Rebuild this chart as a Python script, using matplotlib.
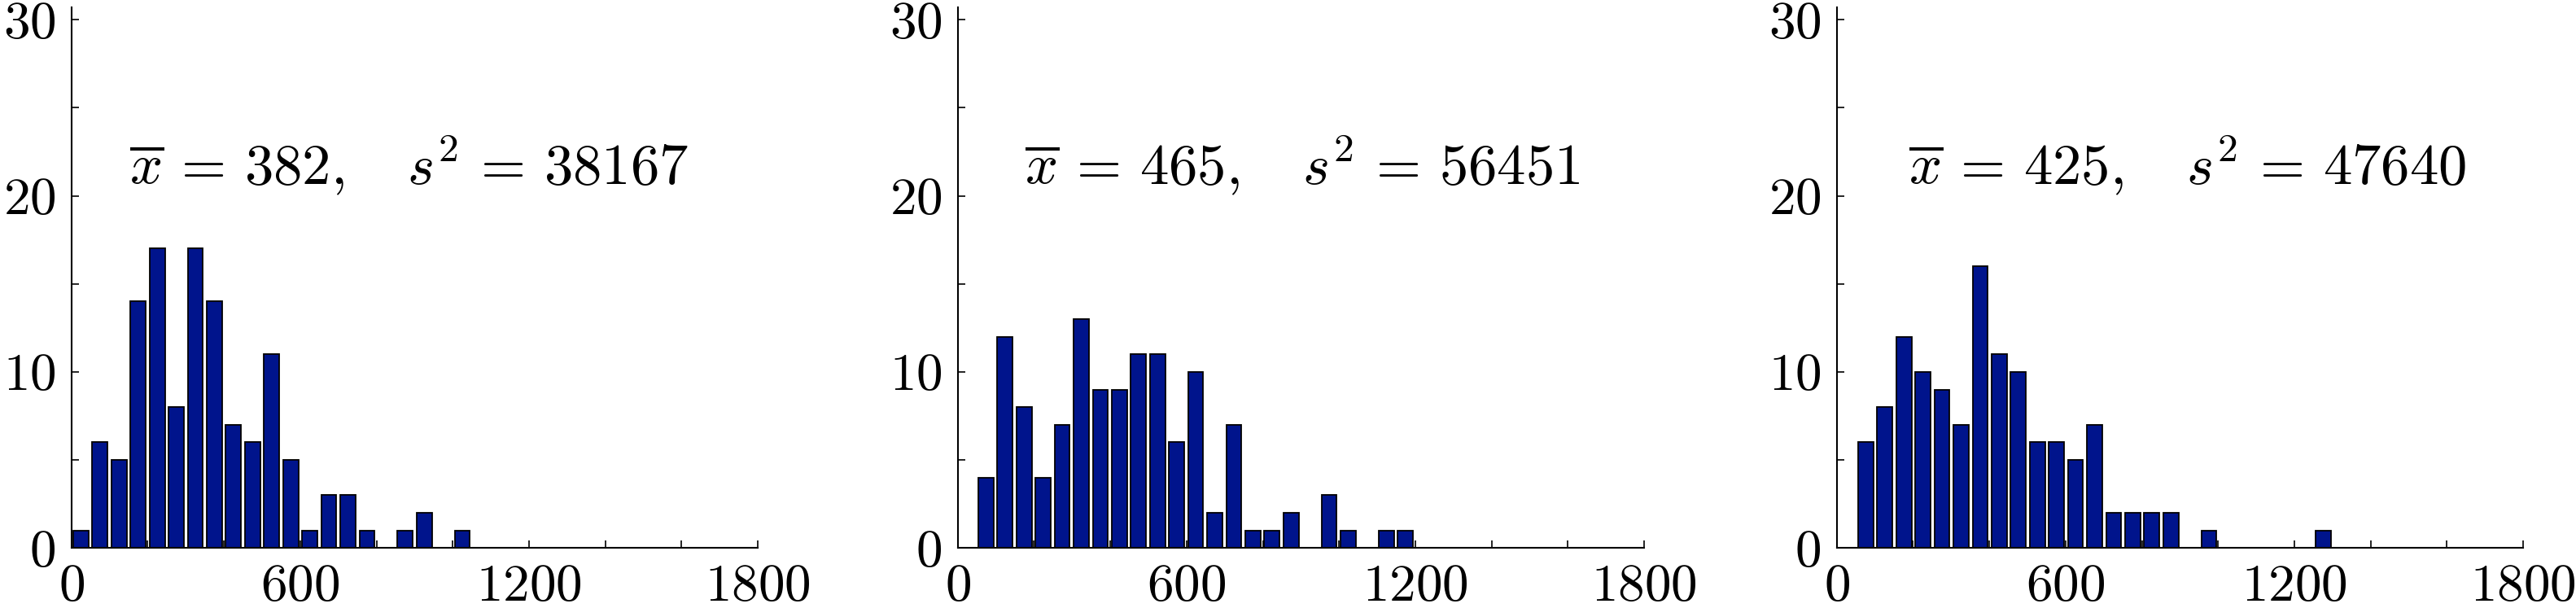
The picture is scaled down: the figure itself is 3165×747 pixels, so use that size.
import matplotlib
matplotlib.use("Agg")
import matplotlib.pyplot as plt
import numpy as np

plt.rcParams['mathtext.fontset'] = 'cm'
plt.rcParams['font.family'] = 'serif'
plt.rcParams['font.serif'] = ['cmr10', 'DejaVu Serif']
plt.rcParams['axes.formatter.use_mathtext'] = True

bin_width = 50
first_centers = [25, 74, 76]
counts_1 = [1, 6, 5, 14, 17, 8, 17, 14, 7, 6, 11, 5, 1, 3, 3, 1, 0, 1, 2, 0, 1]
counts_2 = [4, 12, 8, 4, 7, 13, 9, 9, 11, 11, 6, 10, 2, 7, 1, 1, 2, 0, 3, 1, 0, 1, 1]
counts_3 = [6, 8, 12, 10, 9, 7, 16, 11, 10, 6, 6, 5, 7, 2, 2, 2, 2, 0, 1, 0, 0, 0, 0, 0, 1]
means = [382, 465, 425]
variances = [38167, 56451, 47640]
text_x = [152, 176, 188]
x_ticks = list(range(0, 1801, 200))
x_labels = ['$0$', '', '', '$600$', '', '', '$1200$', '', '', '$1800$']
y_ticks = [0, 5, 10, 15, 20, 25, 30]
y_labels = ['$0$', '', '$10$', '', '$20$', '', '$30$']

all_counts = [counts_1, counts_2, counts_3]
lefts = [87.7 / 3165, 1176.7 / 3165, 2256.7 / 3165]
W, H = 3165, 747
fig = plt.figure(figsize=(W / 100, H / 100), dpi=100)

for i in range(3):
    ax = fig.add_axes([lefts[i], (747 - 673.3) / 747, 843.5 / 3165, (673.3 - 9.3) / 747])
    c = np.array(all_counts[i])
    centers = first_centers[i] + bin_width * np.arange(len(c))
    ax.bar(centers, c, width=0.8 * bin_width, color='#00148C', edgecolor='black',
           linewidth=1.3, zorder=2)
    ax.set_xlim(0, 1800)
    ax.set_ylim(0, 30.69)
    for s in ['top', 'right']:
        ax.spines[s].set_visible(False)
    for s in ['left', 'bottom']:
        ax.spines[s].set_linewidth(1.5)
        ax.spines[s].set_zorder(3)
    ax.set_xticks(x_ticks)
    ax.set_xticklabels(x_labels)
    ax.set_yticks(y_ticks)
    ax.set_yticklabels(y_labels)
    ax.tick_params(direction='in', length=6.5, width=1.2, labelsize=47, pad=14)
    ax.text(text_x[i], 20.65,
            r'$\overline{x}\,=\,%d,\quad s^2\,=\,%d$' % (means[i], variances[i]),
            fontsize=51, ha='left', va='baseline')

fig.savefig('out.png', dpi=100)
